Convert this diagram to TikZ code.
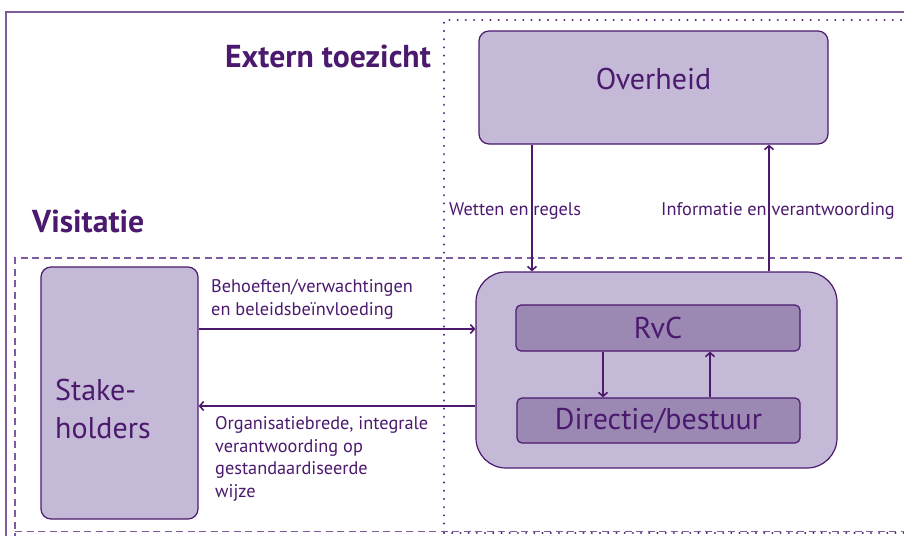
\documentclass[tikz,border=0pt]{standalone}
\usepackage{fontspec}
\setmainfont{PT Sans}
\usetikzlibrary{arrows.meta}
\definecolor{tx}{HTML}{4B1A6E}
\definecolor{fr}{HTML}{7D5C9E}
\definecolor{lite}{HTML}{C4B9D6}
\definecolor{dark}{HTML}{9B89B4}
\tikzset{
  box/.style={draw=tx, line width=1.2pt, fill=lite, rounded corners=10pt, inner sep=0pt},
  inbox/.style={draw=tx, line width=1.2pt, fill=dark, rounded corners=5pt, inner sep=0pt, text=tx, font=\fontsize{30}{33}\selectfont},
  arr/.style={draw=tx, line width=2pt, -{Straight Barb[length=4pt,width=9pt,line width=1.6pt]}},
  lbl/.style={text=tx, font=\fontsize{18.3}{22.5}\selectfont, inner sep=0pt},
  head/.style={text=tx, font=\bfseries\fontsize{31.7}{34}\selectfont, inner sep=0pt},
  big/.style={text=tx, font=\fontsize{30}{37.3}\selectfont, inner sep=0pt},
  dotline/.style={tx, line width=2.3pt, dash pattern=on 0.01pt off 8.2pt, line cap=round},
  dashline/.style={fr, line width=1.1pt, dash pattern=on 7pt off 4.5pt},
}
\begin{document}
\begin{tikzpicture}[x=1pt,y=-1pt]
\useasboundingbox (0,0) rectangle (904,535);
\clip (0,0) rectangle (904,535);
% frames
\draw[fr, line width=1.8pt] (6,540) -- (6,12) -- (910,12);
\draw[dotline] (444,540) -- (444,20) -- (910,20);
\draw[dotline] (444,533) -- (910,533);
\draw[dashline] (15,540) -- (15,258) -- (910,258);
\draw[dashline] (15,531.5) -- (910,531.5);
% headings
\node[head, anchor=base east] (ext) at (431,67.5) {Extern toezicht};
\node[head, anchor=base west] (vis) at (32,232) {Visitatie};
% boxes
\node[box, minimum width=349pt, minimum height=113pt] (ov) at (653.5,87.5) {};
\node[big, anchor=base] (ovt) at (653.5,89.3) {Overheid};
\node[box, rounded corners=30pt, minimum width=361pt, minimum height=196pt] (org) at (656.5,370) {};
\node[inbox, minimum width=284pt, minimum height=46pt] (rvc) at (658,328) {RvC};
\node[inbox, minimum width=283pt, minimum height=45pt] (dir) at (658.5,420.5) {Directie/bestuur};
\node[box, minimum width=157pt, minimum height=252pt] (st) at (119.5,393) {};
\node[big, anchor=base west, align=left] (stt) at (55,438) {Stake-\\holders};
% arrows
\draw[arr] (ov.south -| 532,0) -- (org.north -| 532,0);
\draw[arr] (org.north -| 769,0) -- (ov.south -| 769,0);
\draw[arr] (st.east |- 0,329) -- (org.west |- 0,329);
\draw[arr] (org.west |- 0,406) -- (st.east |- 0,406);
\draw[arr] (rvc.south -| 603,0) -- (dir.north -| 603,0);
\draw[arr] (dir.north -| 710,0) -- (rvc.south -| 710,0);
% labels
\node[lbl, anchor=base west] (l1) at (449,215) {Wetten en regels};
\node[lbl, anchor=base west] (l2) at (661,215) {Informatie en verantwoording};
\node[lbl, anchor=base west, align=left] (l3) at (211,315) {Behoeften/verwachtingen\\en beleidsbeïnvloeding};
\node[lbl, anchor=base west, align=left] (l4) at (215,497) {Organisatiebrede, integrale\\verantwoording op\\gestandaardiseerde\\wijze};
\end{tikzpicture}
\end{document}
